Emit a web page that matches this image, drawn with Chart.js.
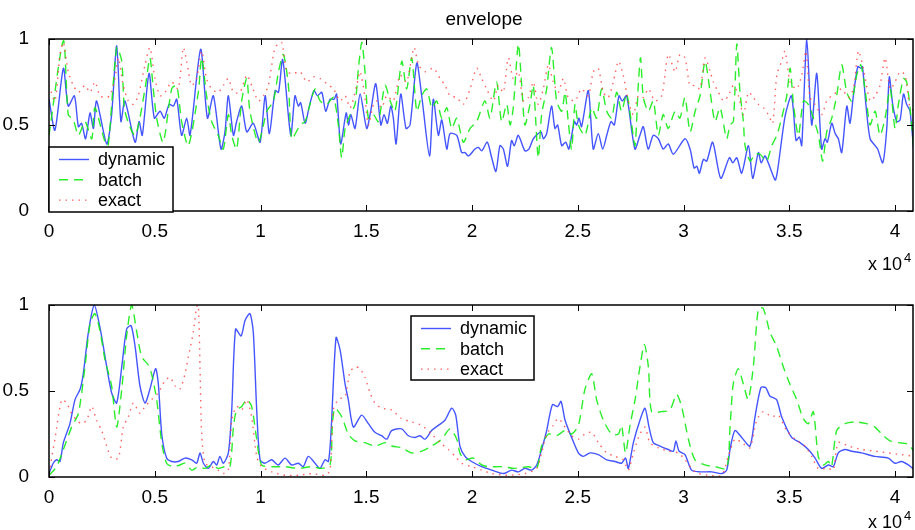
<!DOCTYPE html>
<html>
<head>
<meta charset="utf-8">
<script src="https://cdn.jsdelivr.net/npm/chart.js@4.4.1/dist/chart.umd.min.js"></script>
<style>
  body { margin: 0; background: #fff; }
  #wrap { position: relative; width: 915px; height: 530px; }
  #topChart { position: absolute; left: 0; top: 0; }
  #bottomChart { position: absolute; left: 0; top: 275px; }
</style>
</head>
<body>
<div id="wrap">
  <canvas id="topChart" width="915" height="275"></canvas>
  <canvas id="bottomChart" width="915" height="255"></canvas>
</div>
<script>
// x values are in units of 10^4 samples, y is the normalised envelope
const seriesNames = ["dynamic", "batch", "exact"];
const xTicks = [0, 0.5, 1, 1.5, 2, 2.5, 3, 3.5, 4];
const yTicks = [0, 0.5, 1];

const topDynamic = [[0,0.65],[0.028,0.47],[0.068,0.83],[0.091,0.61],[0.12,0.67],[0.139,0.49],[0.154,0.51],[0.173,0.42],[0.194,0.57],[0.21,0.48],[0.225,0.64],[0.273,0.39],[0.296,0.56],[0.32,0.96],[0.34,0.52],[0.359,0.64],[0.407,0.40],[0.426,0.52],[0.441,0.44],[0.473,0.80],[0.498,0.54],[0.525,0.58],[0.545,0.54],[0.568,0.62],[0.588,0.61],[0.604,0.65],[0.627,0.44],[0.651,0.54],[0.667,0.44],[0.717,0.94],[0.749,0.54],[0.777,0.67],[0.813,0.36],[0.832,0.46],[0.848,0.67],[0.872,0.44],[0.887,0.52],[0.911,0.61],[0.935,0.46],[0.966,0.51],[0.998,0.40],
  [1.022,0.67],[1.042,0.45],[1.069,0.70],[1.085,0.69],[1.105,0.88],[1.143,0.44],[1.163,0.67],[1.179,0.61],[1.19,0.63],[1.211,0.51],[1.231,0.61],[1.253,0.70],[1.269,0.67],[1.29,0.69],[1.308,0.58],[1.329,0.65],[1.348,0.65],[1.36,0.68],[1.379,0.39],[1.405,0.57],[1.416,0.50],[1.427,0.56],[1.447,0.48],[1.471,0.68],[1.502,0.48],[1.521,0.58],[1.545,0.74],[1.569,0.50],[1.584,0.56],[1.6,0.51],[1.616,0.61],[1.628,0.54],[1.641,0.39],[1.663,0.68],[1.688,0.48],[1.707,0.50],[1.739,0.86],[1.762,0.67],[1.799,0.32],[1.817,0.65],[1.841,0.44],[1.857,0.53],[1.881,0.36],[1.896,0.45],[1.928,0.44],[1.951,0.34],[1.967,0.34],[1.983,0.32],
  [2.014,0.36],[2.03,0.37],[2.046,0.35],[2.072,0.40],[2.093,0.31],[2.113,0.23],[2.132,0.38],[2.148,0.36],[2.168,0.26],[2.187,0.41],[2.2,0.38],[2.219,0.44],[2.25,0.35],[2.269,0.36],[2.29,0.42],[2.326,0.46],[2.337,0.42],[2.353,0.45],[2.376,0.61],[2.392,0.48],[2.405,0.50],[2.424,0.38],[2.443,0.40],[2.458,0.36],[2.484,0.52],[2.495,0.50],[2.506,0.54],[2.518,0.49],[2.55,0.70],[2.573,0.36],[2.597,0.45],[2.618,0.36],[2.637,0.44],[2.657,0.52],[2.673,0.50],[2.695,0.67],[2.71,0.64],[2.731,0.67],[2.77,0.36],[2.794,0.44],[2.81,0.49],[2.833,0.36],[2.857,0.44],[2.881,0.42],[2.904,0.36],[2.928,0.39],[2.952,0.33],[3.007,0.42],
  [3.031,0.36],[3.05,0.25],[3.063,0.26],[3.075,0.22],[3.094,0.30],[3.11,0.29],[3.138,0.40],[3.176,0.19],[3.217,0.31],[3.233,0.28],[3.252,0.31],[3.275,0.22],[3.307,0.38],[3.327,0.19],[3.354,0.34],[3.367,0.28],[3.386,0.32],[3.433,0.18],[3.444,0.23],[3.48,0.55],[3.509,0.67],[3.52,0.58],[3.532,0.41],[3.548,0.43],[3.559,0.38],[3.583,1.0],[3.606,0.50],[3.63,0.80],[3.653,0.36],[3.669,0.42],[3.68,0.40],[3.701,0.51],[3.717,0.45],[3.732,0.42],[3.748,0.34],[3.772,0.61],[3.787,0.51],[3.803,0.67],[3.824,0.84],[3.838,0.83],[3.846,0.84],[3.863,0.61],[3.882,0.42],[3.906,0.38],[3.918,0.36],[3.942,0.28],[3.961,0.48],[3.973,0.78],[3.989,0.62],[4.008,0.52],[4.024,0.53],[4.04,0.68],[4.055,0.62],[4.071,0.58],[4.095,0.25]];

const topBatch = [[0,0.44],[0.068,0.99],[0.091,0.56],[0.115,0.53],[0.139,0.44],[0.17,0.52],[0.202,0.42],[0.217,0.60],[0.265,0.40],[0.28,0.38],[0.32,0.95],[0.344,0.87],[0.359,0.58],[0.407,0.44],[0.454,0.71],[0.477,0.89],[0.493,0.71],[0.509,0.54],[0.54,0.40],[0.58,0.71],[0.604,0.73],[0.627,0.52],[0.659,0.38],[0.706,0.69],[0.722,0.89],[0.745,0.67],[0.769,0.52],[0.8,0.44],[0.824,0.36],[0.848,0.56],[0.864,0.44],[0.887,0.36],[0.911,0.64],[0.935,0.77],[0.95,0.58],[0.99,0.40],
  [1.03,0.58],[1.061,0.64],[1.085,0.81],[1.108,0.91],[1.132,0.73],[1.148,0.42],[1.187,0.50],[1.211,0.52],[1.234,0.62],[1.258,0.71],[1.282,0.64],[1.313,0.62],[1.345,0.66],[1.368,0.50],[1.384,0.31],[1.4,0.48],[1.424,0.56],[1.447,0.62],[1.463,0.83],[1.479,0.98],[1.494,0.81],[1.51,0.54],[1.534,0.56],[1.557,0.52],[1.589,0.73],[1.613,0.64],[1.636,0.58],[1.668,0.87],[1.691,0.71],[1.715,0.89],[1.739,0.58],[1.762,0.67],[1.786,0.71],[1.81,0.60],[1.833,0.64],[1.857,0.54],[1.881,0.60],[1.904,0.48],[1.928,0.54],[1.959,0.40],[1.991,0.48],
  [2.022,0.52],[2.061,0.64],[2.085,0.54],[2.116,0.75],[2.14,0.52],[2.164,0.62],[2.18,0.50],[2.195,0.60],[2.219,0.97],[2.235,0.73],[2.25,0.50],[2.274,0.62],[2.29,0.73],[2.313,0.31],[2.329,0.56],[2.353,0.71],[2.376,0.95],[2.4,0.64],[2.424,0.58],[2.44,0.69],[2.455,0.52],[2.471,0.36],[2.487,0.62],[2.503,0.50],[2.534,0.44],[2.566,0.60],[2.589,0.54],[2.613,0.71],[2.637,0.58],[2.66,0.54],[2.684,0.69],[2.707,0.58],[2.731,0.68],[2.755,0.50],[2.771,0.38],[2.786,0.73],[2.797,0.89],[2.81,0.66],[2.834,0.58],[2.857,0.64],[2.881,0.44],[2.904,0.56],[2.928,0.48],[2.96,0.58],[2.983,0.54],[3.007,0.66],
  [3.031,0.46],[3.055,0.58],[3.078,0.67],[3.102,0.87],[3.126,0.69],[3.149,0.52],[3.173,0.60],[3.204,0.42],[3.22,0.50],[3.236,0.52],[3.252,0.97],[3.267,0.69],[3.283,0.52],[3.291,0.38],[3.315,0.29],[3.338,0.33],[3.362,0.33],[3.393,0.29],[3.417,0.38],[3.441,0.44],[3.464,0.54],[3.488,0.67],[3.504,0.83],[3.52,0.62],[3.543,0.44],[3.567,0.64],[3.59,0.62],[3.614,0.54],[3.638,0.44],[3.658,0.29],[3.677,0.46],[3.701,0.54],[3.724,0.67],[3.748,0.85],[3.772,0.69],[3.795,0.64],[3.819,0.79],[3.838,0.85],[3.858,0.71],[3.882,0.50],[3.906,0.58],[3.929,0.44],[3.953,0.54],[3.977,0.71],[4.0,0.48],[4.016,0.62],[4.04,0.77],[4.055,0.75],[4.071,0.60],[4.087,0.38]];

const topExact = [[0,0.73],[0.028,0.64],[0.052,0.91],[0.068,0.98],[0.091,0.81],[0.115,0.73],[0.139,0.69],[0.17,0.73],[0.194,0.69],[0.217,0.75],[0.241,0.67],[0.265,0.66],[0.288,0.67],[0.312,0.77],[0.328,0.89],[0.351,0.73],[0.375,0.64],[0.399,0.62],[0.422,0.67],[0.454,0.85],[0.477,0.95],[0.501,0.77],[0.525,0.67],[0.548,0.69],[0.58,0.75],[0.611,0.71],[0.635,0.95],[0.651,0.87],[0.674,0.73],[0.698,0.77],[0.722,0.93],[0.745,0.77],[0.769,0.71],[0.8,0.69],[0.824,0.73],[0.848,0.77],[0.872,0.69],[0.903,0.69],[0.935,0.79],[0.958,0.73],[0.99,0.64],
  [1.014,0.67],[1.037,0.73],[1.069,0.95],[1.1,0.98],[1.124,0.81],[1.156,0.80],[1.187,0.81],[1.219,0.75],[1.25,0.78],[1.282,0.77],[1.313,0.74],[1.345,0.71],[1.376,0.64],[1.4,0.67],[1.424,0.60],[1.455,0.73],[1.471,0.81],[1.494,0.66],[1.51,0.50],[1.534,0.62],[1.55,0.64],[1.573,0.60],[1.597,0.67],[1.628,0.64],[1.66,0.79],[1.691,0.75],[1.726,0.95],[1.747,0.85],[1.778,0.81],[1.818,0.83],[1.849,0.77],[1.873,0.73],[1.896,0.67],[1.928,0.66],[1.959,0.62],[1.991,0.71],
  [2.022,0.83],[2.046,0.77],[2.069,0.71],[2.101,0.64],[2.124,0.73],[2.148,0.69],[2.172,0.89],[2.195,0.77],[2.219,0.81],[2.243,0.64],[2.266,0.66],[2.29,0.75],[2.313,0.62],[2.337,0.71],[2.361,0.85],[2.384,0.75],[2.408,0.69],[2.432,0.77],[2.455,0.66],[2.487,0.64],[2.518,0.71],[2.55,0.67],[2.574,0.81],[2.597,0.83],[2.621,0.69],[2.644,0.66],[2.668,0.75],[2.692,0.87],[2.715,0.79],[2.739,0.64],[2.763,0.56],[2.786,0.67],[2.81,0.66],[2.834,0.71],[2.865,0.64],[2.897,0.67],[2.928,0.91],[2.96,0.81],[2.983,0.91],[3.007,0.89],[3.03,0.73],
  [3.055,0.73],[3.078,0.71],[3.102,0.89],[3.126,0.81],[3.141,0.75],[3.165,0.69],[3.189,0.64],[3.212,0.67],[3.236,0.73],[3.26,0.67],[3.283,0.56],[3.307,0.69],[3.33,0.66],[3.354,0.62],[3.378,0.60],[3.401,0.56],[3.422,0.51],[3.441,0.79],[3.464,0.87],[3.48,0.93],[3.504,0.75],[3.535,0.71],[3.559,0.79],[3.579,0.93],[3.598,0.66],[3.622,0.62],[3.653,0.56],[3.677,0.64],[3.701,0.67],[3.724,0.69],[3.748,0.71],[3.78,0.66],[3.803,0.71],[3.827,0.93],[3.85,0.83],[3.882,0.64],[3.906,0.67],[3.929,0.73],[3.953,0.89],[3.977,0.71],[4.0,0.75],[4.024,0.81],[4.048,0.79],[4.071,0.60],[4.095,0.58]];

const bottomDynamic = [[0,0.02],[0.02,0.08],[0.036,0.10],[0.052,0.09],[0.068,0.20],[0.099,0.31],[0.123,0.45],[0.147,0.51],[0.162,0.60],[0.186,0.84],[0.214,1.0],[0.241,0.87],[0.273,0.64],[0.296,0.49],[0.32,0.43],[0.344,0.64],[0.367,0.86],[0.388,0.88],[0.407,0.76],[0.43,0.53],[0.454,0.43],[0.477,0.51],[0.504,0.63],[0.517,0.54],[0.533,0.25],[0.556,0.11],[0.58,0.09],[0.611,0.09],[0.643,0.11],[0.675,0.10],[0.698,0.08],[0.714,0.14],[0.73,0.08],[0.753,0.05],[0.777,0.09],[0.793,0.07],[0.808,0.12],[0.824,0.08],[0.848,0.14],[0.864,0.39],[0.882,0.86],[0.908,0.82],[0.927,0.91],[0.95,0.95],[0.966,0.84],[0.982,0.39],[0.998,0.10],
  [1.021,0.08],[1.053,0.10],[1.084,0.07],[1.116,0.11],[1.147,0.07],[1.179,0.08],[1.202,0.06],[1.226,0.12],[1.258,0.08],[1.281,0.05],[1.305,0.10],[1.321,0.09],[1.333,0.25],[1.357,0.81],[1.376,0.74],[1.4,0.54],[1.415,0.45],[1.439,0.29],[1.478,0.36],[1.51,0.31],[1.541,0.26],[1.573,0.24],[1.597,0.22],[1.62,0.27],[1.667,0.28],[1.699,0.24],[1.73,0.23],[1.754,0.24],[1.778,0.22],[1.809,0.27],[1.841,0.30],[1.872,0.33],[1.904,0.40],[1.923,0.36],[1.943,0.18],[1.967,0.12],[1.998,0.09],
  [2.046,0.06],[2.093,0.04],[2.148,0.02],[2.187,0.04],[2.219,0.03],[2.25,0.05],[2.282,0.04],[2.306,0.07],[2.329,0.16],[2.353,0.27],[2.38,0.42],[2.405,0.41],[2.421,0.44],[2.44,0.33],[2.471,0.23],[2.503,0.14],[2.526,0.12],[2.558,0.14],[2.597,0.13],[2.637,0.10],[2.676,0.09],[2.707,0.08],[2.726,0.11],[2.739,0.05],[2.763,0.20],[2.794,0.33],[2.818,0.40],[2.837,0.29],[2.857,0.20],[2.889,0.18],[2.928,0.16],[2.952,0.15],[2.964,0.21],[2.979,0.15],[3.007,0.13],
  [3.038,0.04],[3.078,0.03],[3.133,0.03],[3.18,0.02],[3.204,0.04],[3.22,0.16],[3.243,0.27],[3.275,0.23],[3.314,0.18],[3.338,0.35],[3.366,0.52],[3.388,0.52],[3.409,0.47],[3.44,0.45],[3.464,0.35],[3.511,0.23],[3.551,0.20],[3.59,0.16],[3.622,0.11],[3.653,0.05],[3.685,0.07],[3.708,0.06],[3.732,0.14],[3.763,0.16],[3.795,0.15],[3.842,0.14],[3.905,0.12],[3.968,0.11],[4.0,0.08],[4.031,0.09],[4.063,0.07],[4.094,0.04]];

const bottomBatch = [[0,0.01],[0.036,0.06],[0.068,0.16],[0.107,0.29],[0.139,0.37],[0.17,0.64],[0.194,0.89],[0.217,0.95],[0.241,0.85],[0.265,0.68],[0.296,0.53],[0.32,0.29],[0.344,0.51],[0.367,0.82],[0.391,1.0],[0.414,0.85],[0.438,0.70],[0.47,0.65],[0.485,0.60],[0.509,0.45],[0.533,0.20],[0.556,0.08],[0.588,0.06],[0.619,0.07],[0.643,0.08],[0.675,0.04],[0.706,0.06],[0.738,0.05],[0.769,0.07],[0.8,0.05],[0.832,0.06],[0.856,0.06],[0.872,0.29],[0.887,0.39],[0.911,0.41],[0.935,0.45],[0.958,0.41],[0.982,0.22],
  [1.005,0.07],[1.053,0.06],[1.116,0.06],[1.179,0.05],[1.242,0.06],[1.289,0.05],[1.329,0.07],[1.34,0.31],[1.352,0.40],[1.384,0.35],[1.415,0.25],[1.447,0.21],[1.494,0.20],[1.541,0.18],[1.589,0.20],[1.62,0.18],[1.667,0.17],[1.715,0.14],[1.762,0.15],[1.809,0.18],[1.857,0.22],[1.896,0.28],[1.928,0.22],[1.943,0.14],[1.967,0.10],[2.006,0.11],
  [2.046,0.07],[2.077,0.06],[2.14,0.06],[2.203,0.05],[2.266,0.06],[2.306,0.05],[2.329,0.18],[2.361,0.25],[2.4,0.24],[2.44,0.27],[2.471,0.25],[2.503,0.30],[2.534,0.51],[2.566,0.60],[2.589,0.45],[2.621,0.33],[2.66,0.25],[2.692,0.25],[2.707,0.30],[2.726,0.14],[2.747,0.30],[2.771,0.45],[2.794,0.64],[2.815,0.77],[2.834,0.64],[2.849,0.38],[2.897,0.38],[2.936,0.39],[2.967,0.48],[2.991,0.41],
  [3.023,0.22],[3.054,0.10],[3.101,0.07],[3.149,0.06],[3.204,0.05],[3.22,0.29],[3.235,0.54],[3.259,0.63],[3.283,0.54],[3.306,0.45],[3.33,0.64],[3.354,0.98],[3.377,0.98],[3.409,0.84],[3.44,0.76],[3.472,0.64],[3.503,0.54],[3.535,0.45],[3.566,0.34],[3.59,0.31],[3.614,0.38],[3.637,0.12],[3.661,0.07],[3.685,0.09],[3.7,0.06],[3.724,0.27],[3.763,0.31],[3.811,0.32],[3.866,0.31],[3.905,0.29],[3.937,0.25],[3.976,0.21],[4.016,0.20],[4.063,0.19],[4.094,0.14]];

const bottomExact = [[0,0.02],[0.028,0.22],[0.06,0.45],[0.083,0.43],[0.107,0.37],[0.131,0.33],[0.154,0.31],[0.178,0.33],[0.202,0.41],[0.225,0.33],[0.249,0.27],[0.273,0.18],[0.296,0.11],[0.328,0.11],[0.351,0.29],[0.375,0.35],[0.399,0.43],[0.43,0.37],[0.454,0.41],[0.485,0.45],[0.517,0.49],[0.548,0.56],[0.572,0.58],[0.596,0.53],[0.619,0.51],[0.643,0.60],[0.659,0.70],[0.682,0.84],[0.698,0.99],[0.706,1.0],[0.714,0.64],[0.722,0.25],[0.738,0.08],[0.769,0.06],[0.8,0.04],[0.824,0.02],[0.848,0.04],[0.864,0.33],[0.887,0.41],[0.911,0.39],[0.935,0.45],[0.958,0.35],[0.982,0.12],
  [1.005,0.06],[1.053,0.03],[1.116,0.01],[1.179,0.01],[1.242,0.02],[1.305,0.01],[1.329,0.04],[1.344,0.39],[1.368,0.45],[1.4,0.47],[1.423,0.61],[1.447,0.64],[1.47,0.63],[1.494,0.58],[1.518,0.49],[1.541,0.43],[1.573,0.40],[1.62,0.39],[1.667,0.34],[1.715,0.32],[1.762,0.30],[1.809,0.25],[1.849,0.20],[1.888,0.16],[1.92,0.12],[1.951,0.08],[1.998,0.06],
  [2.046,0.04],[2.093,0.02],[2.172,0.01],[2.25,0.02],[2.306,0.05],[2.329,0.14],[2.353,0.25],[2.384,0.30],[2.408,0.34],[2.44,0.29],[2.471,0.24],[2.503,0.22],[2.534,0.25],[2.566,0.26],[2.597,0.20],[2.637,0.14],[2.676,0.12],[2.715,0.10],[2.739,0.04],[2.763,0.14],[2.794,0.25],[2.818,0.29],[2.841,0.20],[2.881,0.17],[2.928,0.15],[2.975,0.14],[3.007,0.10],
  [3.054,0.03],[3.117,0.01],[3.18,0.01],[3.212,0.12],[3.243,0.22],[3.275,0.20],[3.314,0.17],[3.346,0.33],[3.377,0.38],[3.417,0.35],[3.448,0.36],[3.488,0.27],[3.527,0.22],[3.574,0.18],[3.606,0.12],[3.637,0.05],[3.685,0.05],[3.708,0.04],[3.732,0.20],[3.779,0.18],[3.842,0.16],[3.905,0.15],[3.968,0.14],[4.031,0.13],[4.094,0.12]];

document.addEventListener("DOMContentLoaded", () => {
  const FONT = "'Liberation Sans', Arial, Helvetica, sans-serif";
  Chart.defaults.font.family = FONT;
  Chart.defaults.color = "#000";

  const styles = [
    { borderColor: "rgba(35,55,255,0.85)", borderWidth: 1.4, borderDash: [] },
    { borderColor: "rgba(20,235,20,0.9)", borderWidth: 1.4, borderDash: [9, 6] },
    { borderColor: "rgba(255,70,70,0.85)", borderWidth: 1.4, borderDash: [1.5, 5] }
  ];

  const toPoints = arr => arr.map(p => ({ x: p[0], y: p[1] }));

  // frame, inward ticks, legend box, title and the "x 10^4" exponent
  const decorPlugin = {
    id: "decor",
    afterDraw(chart, args, opts) {
      const { ctx, chartArea: a, scales } = chart;
      ctx.save();
      ctx.strokeStyle = "#000";
      ctx.lineWidth = 1;
      ctx.setLineDash([]);
      ctx.beginPath();
      scales.x.ticks.forEach(t => {
        const px = Math.round(scales.x.getPixelForValue(t.value)) + 0.5;
        ctx.moveTo(px, a.bottom); ctx.lineTo(px, a.bottom - 6);
        ctx.moveTo(px, a.top); ctx.lineTo(px, a.top + 6);
      });
      scales.y.ticks.forEach(t => {
        const py = Math.round(scales.y.getPixelForValue(t.value)) + 0.5;
        ctx.moveTo(a.left, py); ctx.lineTo(a.left + 6, py);
        ctx.moveTo(a.right, py); ctx.lineTo(a.right - 6, py);
      });
      ctx.stroke();
      ctx.lineWidth = 1.5;
      ctx.strokeRect(a.left, a.top, a.right - a.left, a.bottom - a.top);

      if (opts.title) {
        ctx.fillStyle = "#000";
        ctx.font = "19px " + FONT;
        ctx.textAlign = "center";
        ctx.textBaseline = "alphabetic";
        ctx.fillText(opts.title, (a.left + a.right) / 2 + 3, 25);
      }

      // exponent label under the x axis
      ctx.fillStyle = "#000";
      ctx.textAlign = "left";
      ctx.textBaseline = "alphabetic";
      ctx.font = "18px " + FONT;
      ctx.fillText("x 10", 868, opts.expY);
      ctx.font = "13px " + FONT;
      ctx.fillText("4", 904, opts.expY - 8);

      // legend
      const L = opts.legend;
      ctx.fillStyle = "#fff";
      ctx.fillRect(L.x, L.y, L.w, L.h);
      ctx.lineWidth = 1.5;
      ctx.strokeStyle = "#000";
      ctx.strokeRect(L.x, L.y, L.w, L.h);
      chart.data.datasets.forEach((ds, i) => {
        const ly = L.y + 12.5 + i * 20.3;
        ctx.save();
        ctx.strokeStyle = ds.borderColor;
        ctx.lineWidth = ds.borderWidth;
        ctx.setLineDash(ds.borderDash);
        ctx.beginPath();
        ctx.moveTo(L.x + 10, ly);
        ctx.lineTo(L.x + 40, ly);
        ctx.stroke();
        ctx.restore();
        ctx.fillStyle = "#000";
        ctx.font = "18px " + FONT;
        ctx.textBaseline = "middle";
        ctx.fillText(ds.label, L.x + 49, ly + 1);
      });
      ctx.restore();
    }
  };

  function makeChart(canvasId, seriesData, padTop, axisHeight, decor) {
    return new Chart(document.getElementById(canvasId), {
      type: "line",
      data: {
        datasets: seriesData.map((d, i) => ({
          label: seriesNames[i],
          data: toPoints(d),
          ...styles[i],
          pointRadius: 0,
          tension: 0.25,
          fill: false,
          order: 2 - i
        }))
      },
      options: {
        responsive: false,
        animation: false,
        devicePixelRatio: 1,
        layout: { padding: { left: 0, right: 2, top: padTop, bottom: 0 } },
        plugins: { legend: { display: false }, tooltip: { enabled: false }, decor },
        scales: {
          x: {
            type: "linear",
            min: 0,
            max: 4.085,
            afterBuildTicks: s => { s.ticks = xTicks.map(v => ({ value: v })); },
            afterFit: s => { s.height = axisHeight; },
            ticks: {
              font: { size: 19 },
              padding: 1,
              maxRotation: 0,
              autoSkip: false,
              callback: v => String(+v.toFixed(1))
            },
            grid: { display: false },
            border: { display: false }
          },
          y: {
            min: 0,
            max: 1,
            afterBuildTicks: s => { s.ticks = yTicks.map(v => ({ value: v })); },
            afterFit: s => { s.width = 49; },
            ticks: {
              font: { size: 19 },
              padding: 12,
              callback: v => String(+v.toFixed(1))
            },
            grid: { display: false },
            border: { display: false }
          }
        }
      },
      plugins: [decorPlugin]
    });
  }

  makeChart("topChart", [topDynamic, topBatch, topExact], 39, 64, {
    title: "envelope",
    expY: 270,
    legend: { x: 49, y: 147, w: 124, h: 65 }
  });

  makeChart("bottomChart", [bottomDynamic, bottomBatch, bottomExact], 30, 53, {
    expY: 253,
    legend: { x: 411, y: 41, w: 123, h: 64 }
  });
});
</script>
</body>
</html>
